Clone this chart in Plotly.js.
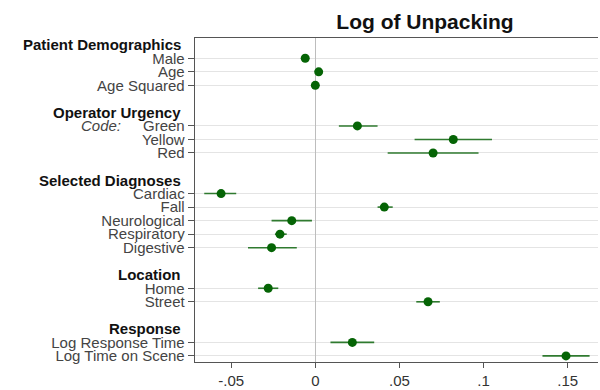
<!DOCTYPE html>
<html>
<head>
<meta charset="utf-8">
<script src="https://cdn.plot.ly/plotly-3.0.1.min.js"></script>
<style>html,body{margin:0;padding:0;background:#fff;}#chart{width:600px;height:390px;}</style>
</head>
<body>
<div id="chart"></div>
<script>
// Groups (headers) and their variable labels
const groupNames = ["Patient Demographics", "Operator Urgency", "Selected Diagnoses", "Location", "Response"];
const demoLabels = ["Male", "Age", "Age Squared"];
const urgencyLabels = ["Green", "Yellow", "Red"];
const diagLabels = ["Cardiac", "Fall", "Neurological", "Respiratory", "Digestive"];
const locLabels = ["Home", "Street"];
const respLabels = ["Log Response Time", "Log Time on Scene"];

// Coefficient estimates
const demoCoef = [-0.006, 0.002, 0.0];
const urgencyCoef = [0.025, 0.082, 0.070];
const diagCoef = [-0.056, 0.041, -0.014, -0.021, -0.026];
const locCoef = [-0.028, 0.067];
const respCoef = [0.022, 0.149];

// Lower bounds of confidence intervals
const demoLo = [-0.006, 0.002, 0.0];
const urgencyLo = [0.014, 0.059, 0.043];
const diagLo = [-0.066, 0.037, -0.026, -0.024, -0.040];
const locLo = [-0.034, 0.060];
const respLo = [0.009, 0.135];

// Upper bounds of confidence intervals
const demoHi = [-0.006, 0.002, 0.0];
const urgencyHi = [0.037, 0.105, 0.097];
const diagHi = [-0.047, 0.046, -0.002, -0.017, -0.011];
const locHi = [-0.022, 0.074];
const respHi = [0.035, 0.163];

const xTickVals = [-0.05, 0, 0.05, 0.1, 0.15];
const xTickText = ["-.05", "0", ".05", ".1", ".15"];

const groups = [
  [demoLabels, demoCoef, demoLo, demoHi],
  [urgencyLabels, urgencyCoef, urgencyLo, urgencyHi],
  [diagLabels, diagCoef, diagLo, diagHi],
  [locLabels, locCoef, locLo, locHi],
  [respLabels, respCoef, respLo, respHi]
];

// Build row layout: header row, item rows, blank row
let row = -1;
const ys = [], xs = [], em = [], ep = [], tickvals = [], ticktext = [];
const annotations = [];
const headerX = -12 / 403;
groups.forEach((g, gi) => {
  annotations.push({
    xref: "paper", yref: "y", x: headerX, y: row, xanchor: "right", yanchor: "middle",
    text: "<b>" + groupNames[gi] + "</b>", showarrow: false,
    font: {family: "Liberation Sans, Arial, sans-serif", size: 15, color: "#111"}
  });
  row += 1;
  g[0].forEach((lab, i) => {
    ys.push(row); xs.push(g[1][i]);
    em.push(g[1][i] - g[2][i]); ep.push(g[3][i] - g[1][i]);
    tickvals.push(row); ticktext.push(lab);
    if (gi === 1 && i === 0) {
      annotations.push({
        xref: "paper", yref: "y", x: -72 / 403, y: row, xanchor: "right", yanchor: "middle",
        text: "<i>Code:</i>", showarrow: false,
        font: {family: "Liberation Sans, Arial, sans-serif", size: 15, color: "#444"}
      });
    }
    row += 1;
  });
  row += 1;
});

const trace = {
  type: "scatter", mode: "markers",
  x: xs, y: ys,
  marker: {color: "#056405", size: 9},
  error_x: {type: "data", symmetric: false, array: ep, arrayminus: em, width: 0, color: "#2f7a2f", thickness: 1.6},
  hoverinfo: "x+y", showlegend: false
};

const layout = {
  width: 600, height: 390,
  margin: {l: 195, r: 2, t: 38, b: 28},
  paper_bgcolor: "#fff", plot_bgcolor: "#fff",
  font: {family: "Liberation Sans, Arial, sans-serif", color: "#444"},
  title: {
    text: "<b>Log of Unpacking</b>",
    x: 425 / 600, xanchor: "center", xref: "container",
    y: 1 - 22 / 390, yanchor: "middle", yref: "container",
    font: {size: 21, color: "#111", family: "Liberation Sans, Arial, sans-serif"}
  },
  xaxis: {
    range: [-0.0715, 0.168],
    tickvals: xTickVals, ticktext: xTickText,
    ticks: "outside", ticklen: 5, tickcolor: "#555",
    tickfont: {size: 15, color: "#333"},
    showgrid: false,
    zeroline: true, zerolinecolor: "#bdbdbd", zerolinewidth: 1.5,
    showline: true, linecolor: "#555", linewidth: 1.3, mirror: true
  },
  yaxis: {
    range: [22.45, -1.5],
    tickvals: tickvals, ticktext: ticktext,
    ticks: "outside", ticklen: 6, tickcolor: "#555",
    tickfont: {size: 15, color: "#444"},
    showgrid: true, gridcolor: "#e4e4e4", gridwidth: 1,
    zeroline: false,
    showline: true, linecolor: "#555", linewidth: 1.3
  },
  annotations: annotations
};

Plotly.newPlot("chart", [trace], layout, {displayModeBar: false, staticPlot: true});
</script>
</body>
</html>
